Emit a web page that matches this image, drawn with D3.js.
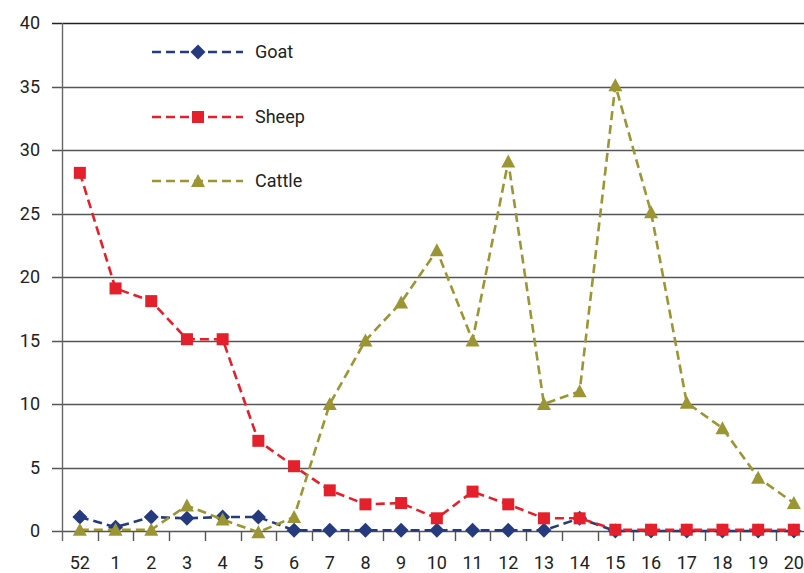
<!DOCTYPE html>
<html>
<head>
<meta charset="utf-8">
<script src="https://cdn.jsdelivr.net/npm/d3@7"></script>
<style>
  body { margin: 0; background: #fff; }
  svg { display: block; font-family: Roboto, "Liberation Sans", sans-serif; }
</style>
</head>
<body>
<svg id="chart" width="804" height="573"></svg>
<script>
// weeks on the x axis
const weeks = ['52', '1', '2', '3', '4', '5', '6', '7', '8', '9', '10',
               '11', '12', '13', '14', '15', '16', '17', '18', '19', '20'];
const goat = [1.1, 0.3, 1.1, 1, 1.1, 1.1, 0.05, 0.05, 0.05, 0.05, 0.05,
              0.05, 0.05, 0.05, 1, 0, 0, 0, 0, 0, 0];
const sheep = [28.2, 19.1, 18.1, 15.1, 15.1, 7.1, 5.1, 3.2, 2.1, 2.2, 1,
               3.1, 2.1, 1, 1, 0.1, 0.1, 0.1, 0.1, 0.1, 0.1];
const cattle = [0.1, 0.1, 0.1, 2, 0.9, -0.1, 1.1, 10, 15, 18, 22.1,
                15, 29.1, 10, 11, 35.1, 25.1, 10.1, 8.1, 4.2, 2.2];
const yTicks = [0, 5, 10, 15, 20, 25, 30, 35, 40];

const series = [
    { name: 'Goat', values: goat, color: '#263b7e', marker: 'diamond' },
    { name: 'Sheep', values: sheep, color: '#e3202b', marker: 'square' },
    { name: 'Cattle', values: cattle, color: '#9b9633', marker: 'triangle' }
];

const svg = d3.select('#chart');
const plotLeft = 62, plotTop = 23, plotBottom = 531;

const x = d3.scaleBand()
    .domain(weeks)
    .range([plotLeft, plotLeft + 35.7 * weeks.length])
    .padding(0);

const y = d3.scaleLinear()
    .domain([0, 40])
    .range([plotBottom, plotTop]);

// horizontal grid
svg.append('g')
    .selectAll('line')
    .data(yTicks)
    .join('line')
    .attr('x1', 52)
    .attr('x2', 804)
    .attr('y1', d => Math.round(y(d)) + 0.5)
    .attr('y2', d => Math.round(y(d)) + 0.5)
    .attr('stroke', d => d === 40 ? '#222' : '#555')
    .attr('stroke-width', 1.4);

// y axis line
svg.append('line')
    .attr('x1', plotLeft + 0.5).attr('x2', plotLeft + 0.5)
    .attr('y1', plotTop).attr('y2', plotBottom + 10)
    .attr('stroke', '#666')
    .attr('stroke-width', 1.4);

// y labels
svg.append('g')
    .selectAll('text')
    .data(yTicks)
    .join('text')
    .attr('x', 40)
    .attr('y', d => y(d))
    .attr('dy', '0.36em')
    .attr('text-anchor', 'end')
    .attr('font-size', 18)
    .attr('fill', '#222')
    .text(d => d);

// x ticks between categories
svg.append('g')
    .selectAll('line')
    .data(weeks.slice(1))
    .join('line')
    .attr('x1', d => Math.round(x(d)) + 0.5)
    .attr('x2', d => Math.round(x(d)) + 0.5)
    .attr('y1', plotBottom)
    .attr('y2', plotBottom + 10)
    .attr('stroke', '#555')
    .attr('stroke-width', 1.4);

// x labels
svg.append('g')
    .selectAll('text')
    .data(weeks)
    .join('text')
    .attr('x', d => x(d) + x.bandwidth() / 2)
    .attr('y', 569)
    .attr('text-anchor', 'middle')
    .attr('font-size', 18)
    .attr('fill', '#222')
    .text(d => d);

const cx = (d, i) => x(weeks[i]) + x.bandwidth() / 2;

function drawMarker(g, type, color) {
    if (type === 'diamond') {
        g.append('path').attr('d', 'M0,-7.5L7.5,0L0,7.5L-7.5,0Z').attr('fill', color);
    } else if (type === 'square') {
        g.append('rect').attr('x', -6).attr('y', -6).attr('width', 12).attr('height', 12).attr('fill', color);
    } else {
        g.append('path').attr('d', 'M0,-7L7,6L-7,6Z').attr('fill', color);
    }
}

const line = d3.line().x(cx).y(d => y(d));

series.forEach(s => {
    svg.append('path')
        .datum(s.values)
        .attr('d', line)
        .attr('fill', 'none')
        .attr('stroke', s.color)
        .attr('stroke-width', 2.6)
        .attr('stroke-dasharray', '9,5');

    svg.append('g')
        .selectAll('g')
        .data(s.values)
        .join('g')
        .attr('transform', (d, i) => `translate(${cx(d, i)},${y(d)})`)
        .each(function () { drawMarker(d3.select(this), s.marker, s.color); });
});

// legend
const legendY = [52, 117, 181];
series.forEach((s, i) => {
    const g = svg.append('g').attr('transform', `translate(152,${legendY[i]})`);
    g.append('line')
        .attr('x1', 0).attr('x2', 91)
        .attr('stroke', s.color)
        .attr('stroke-width', 2.6)
        .attr('stroke-dasharray', '9,5');
    const m = g.append('g').attr('transform', 'translate(46,0)');
    drawMarker(m, s.marker, s.color);
    g.append('text')
        .attr('x', 103)
        .attr('dy', '0.36em')
        .attr('font-size', 18)
        .attr('fill', '#222')
        .text(s.name);
});
</script>
</body>
</html>
